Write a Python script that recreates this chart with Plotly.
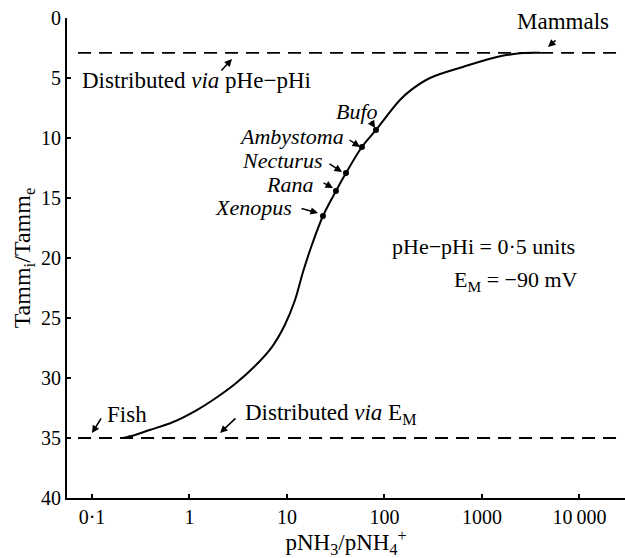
import plotly.graph_objects as go

# ---------------- data ----------------
ratio = [0.208, 0.276, 0.39, 0.68, 1.19, 1.74, 2.93, 4.7, 7.0, 9.5, 12.1, 14.6, 18.0,
         23.4, 31.8, 40.3, 58.7, 81.8, 144, 191, 293, 638, 1425, 2630, 3935]
tamm = [35.0, 34.75, 34.33, 33.67, 32.67, 31.83, 30.5, 29.0, 27.42, 25.58, 23.5, 21.17, 18.92,
        16.5, 14.42, 12.92, 10.75, 9.33, 6.83, 5.95, 5.0, 4.08, 3.25, 2.92, 2.9]

species = ["Xenopus", "Rana", "Necturus", "Ambystoma", "Bufo"]
species_ratio = [23.4, 31.8, 40.3, 58.7, 81.8]
species_tamm = [16.5, 14.42, 12.92, 10.75, 9.33]

limit_tamm = [2.9, 35.0]          # pHe-pHi limit (top), E_M limit (bottom)
limit_extent = [0.072, 26000]

x_tickvals = [0.1, 1, 10, 100, 1000, 10000]
x_ticktext = ["0·1", "1", "10", "100", "1000", "10\u2009000"]
y_tickvals = [0, 5, 10, 15, 20, 25, 30, 35, 40]

# ---------------- layout geometry ----------------
W, H = 625, 558
ML, MR, MT, MB = 67, 0, 18, 60
PW, PH = W - ML - MR, H - MT - MB

def P(px, py):
    return (px - ML) / PW, 1 - (py - MT) / PH

FONT = "Liberation Serif"
fig = go.Figure()

for t in limit_tamm:
    fig.add_trace(go.Scatter(x=limit_extent, y=[t, t], mode="lines",
                             line=dict(color="black", width=1.8, dash="13px,8px"),
                             hoverinfo="skip", showlegend=False))

fig.add_trace(go.Scatter(x=ratio, y=tamm, mode="lines",
                         line=dict(color="black", width=2, shape="spline", smoothing=1.0),
                         showlegend=False))
fig.add_trace(go.Scatter(x=species_ratio, y=species_tamm, mode="markers",
                         marker=dict(color="black", size=6),
                         text=species, showlegend=False))

ann = []

def text(px, py, s, anchor="left", italic=False, size=23):
    x, y = P(px, py)
    ann.append(dict(x=x, y=y, xref="paper", yref="paper", text=s, showarrow=False,
                    xanchor=anchor, yanchor="middle",
                    font=dict(family=FONT, size=size, color="black",
                              style="italic" if italic else "normal")))

def arrow(tx, ty, hx, hy):
    x, y = P(hx, hy)
    ann.append(dict(x=x, y=y, xref="paper", yref="paper", text="", showarrow=True,
                    ax=tx - hx, ay=ty - hy, arrowhead=2, arrowsize=1.0,
                    arrowwidth=1.5, arrowcolor="black"))

text(80, 80, "Distributed <i>via</i> pHe\u2212pHi")
arrow(220, 72, 232, 59)
text(563, 22, "Mammals", anchor="center")
arrow(557, 39, 548, 47)
text(105, 414, "Fish")
arrow(102, 417, 92, 433)
text(243, 414, "Distributed <i>via</i> E<sub>M</sub>")
arrow(237, 417, 220, 433)
text(390, 246, "pHe\u2212pHi = 0·5 units", size=22)
text(452, 281, "E<sub>M</sub> = \u221290 mV", size=22)

# species labels
text(380, 112, "Bufo", anchor="right", italic=True, size=22)
arrow(370, 120, 375, 128)
text(346, 136, "Ambystoma", anchor="right", italic=True, size=22)
arrow(348, 139, 360, 147)
text(324, 160, "Necturus", anchor="right", italic=True, size=22)
arrow(328, 163, 342, 172)
text(315, 184, "Rana", anchor="right", italic=True, size=22)
arrow(322, 182, 333, 188)
text(294, 208, "Xenopus", anchor="right", italic=True, size=22)
arrow(300, 208, 318, 213)

fig.update_layout(
    width=W, height=H,
    margin=dict(l=ML, r=MR, t=MT, b=MB),
    paper_bgcolor="white", plot_bgcolor="white",
    font=dict(family=FONT, size=21, color="black"),
    annotations=ann,
    xaxis=dict(type="log", range=[-1.256, 4.467],
               tickvals=x_tickvals, ticktext=x_ticktext,
               ticks="inside", ticklen=4, tickwidth=1.5, tickcolor="black",
               showline=True, linewidth=2, linecolor="black",
               showgrid=False, zeroline=False,
               tickfont=dict(size=20),
               title=dict(text="pNH<sub>3</sub>/pNH<sub>4</sub><sup>+</sup>",
                          font=dict(size=23), standoff=2)),
    yaxis=dict(range=[40, 0], tickvals=y_tickvals,
               ticks="inside", ticklen=4, tickwidth=1.5, tickcolor="black",
               showline=True, linewidth=2, linecolor="black",
               showgrid=False, zeroline=False,
               tickfont=dict(size=20),
               title=dict(text="Tamm<sub>i</sub>/Tamm<sub>e</sub>",
                          font=dict(size=24), standoff=4)),
)

fig.write_html("out.html")
